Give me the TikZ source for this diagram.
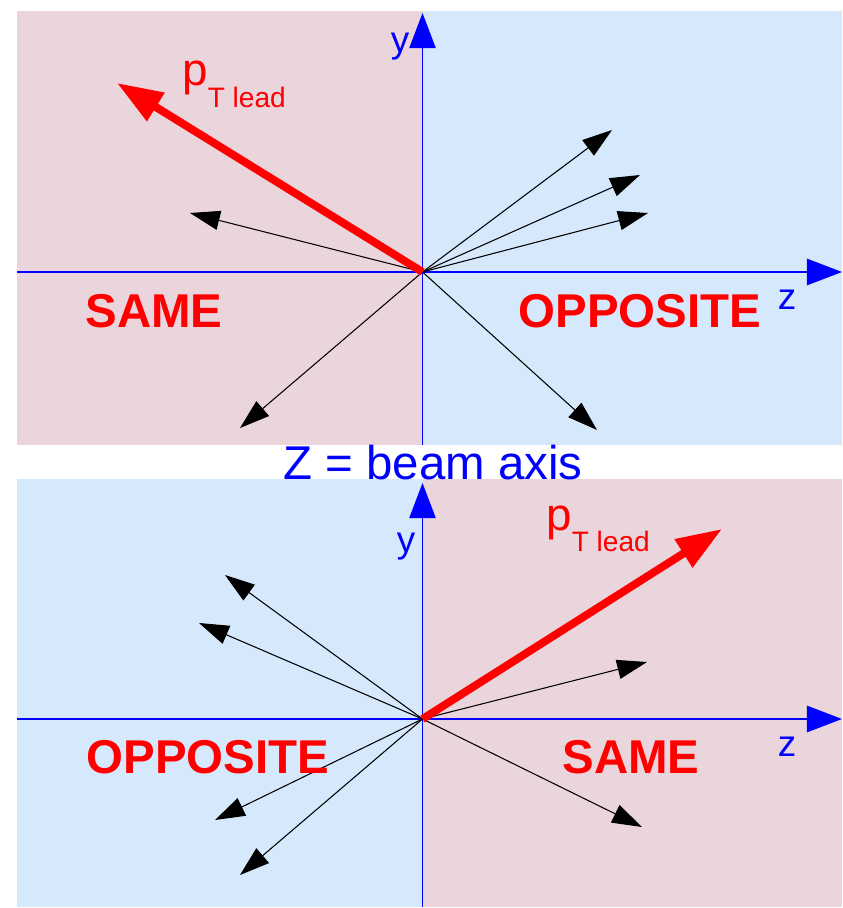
\documentclass[tikz,border=0pt]{standalone}
\usepackage{fontspec}
\setmainfont{Liberation Sans}
\usetikzlibrary{arrows.meta}
\definecolor{samepink}{HTML}{EAD5DC}
\definecolor{oppblue}{HTML}{D6E8FB}
\definecolor{axblue}{HTML}{0000FF}
\definecolor{leadred}{HTML}{FF0000}

\begin{document}
\begin{tikzpicture}[x=0.02cm,y=-0.02cm,>=Stealth,
  axis/.style={axblue,line width=1.1pt,-{Triangle[length=20pt,width=15pt]}},
  trk/.style={black,line width=0.6pt,-{Triangle[length=17pt,width=11pt]}},
  lead/.style={leadred,line width=4.5pt,-{Triangle[length=26pt,width=18pt]}},
  side/.style={leadred,font=\fontsize{27}{27}\selectfont\bfseries,inner sep=0pt},
  axlbl/.style={axblue,font=\fontsize{21}{21}\selectfont,inner sep=0pt},
  ptlbl/.style={leadred,font=\fontsize{26}{26}\selectfont,inner sep=0pt,anchor=base west}]
  \useasboundingbox (0,0) rectangle (842,908);
  % panels
  \fill[samepink] (17,11) rectangle (422.5,445);
  \fill[oppblue] (422.5,11) rectangle (842,445);
  \fill[oppblue] (17,479) rectangle (422.5,907);
  \fill[samepink] (422.5,479) rectangle (842,907);
  % axes
  \foreach \p/\yo/\yb/\yt in {1/272/445/13, 2/719/907/483} {
    \coordinate (o\p) at (422.5,\yo);
    \coordinate (zl\p) at (17,\yo);
    \coordinate (zr\p) at (842,\yo);
    \coordinate (yb\p) at (422.5,\yb);
    \coordinate (yt\p) at (422.5,\yt);
    \draw[axis] (zl\p) -- (zr\p);
    \draw[axis,line width=0.7pt] (yb\p) -- (yt\p);
  }
  % tracks
  \foreach \n/\x/\y in {a/190/213, b/612/130, c/640/175, d/648/213, e/240/428, f/597/430} {
    \coordinate (ta\n) at (\x,\y);
    \draw[trk] (o1) -- (ta\n);
  }
  \foreach \n/\x/\y in {a/225/575, b/199/623, c/647/662, d/215/820, e/240/875, f/642/827} {
    \coordinate (tb\n) at (\x,\y);
    \draw[trk] (o2) -- (tb\n);
  }
  \coordinate (lead1) at (117,83);
  \coordinate (lead2) at (722,529);
  \draw[lead] (o1) -- (lead1);
  \draw[lead] (o2) -- (lead2);
  % labels
  \node[ptlbl] (pt1) at (182,86) {p\raisebox{-12pt}{\fontsize{16}{16}\selectfont T lead}};
  \node[ptlbl] (pt2) at (546,530) {p\raisebox{-12pt}{\fontsize{16}{16}\selectfont T lead}};
  \node[side] (same1) at (154,311) {SAME};
  \node[side] (opp1) at (640,311) {OPPOSITE};
  \node[side] (opp2) at (208,757) {OPPOSITE};
  \node[side] (same2) at (631,757) {SAME};
  \node[axlbl] (y1) at (400,47) {y};
  \node[axlbl] (y2) at (406,547) {y};
  \node[axlbl] (z1) at (787,300) {z};
  \node[axlbl] (z2) at (787,747) {z};
  \node[axblue,font=\fontsize{27}{27}\selectfont,inner sep=0pt] (beam) at (433,463) {Z = beam axis};
\end{tikzpicture}
\end{document}
